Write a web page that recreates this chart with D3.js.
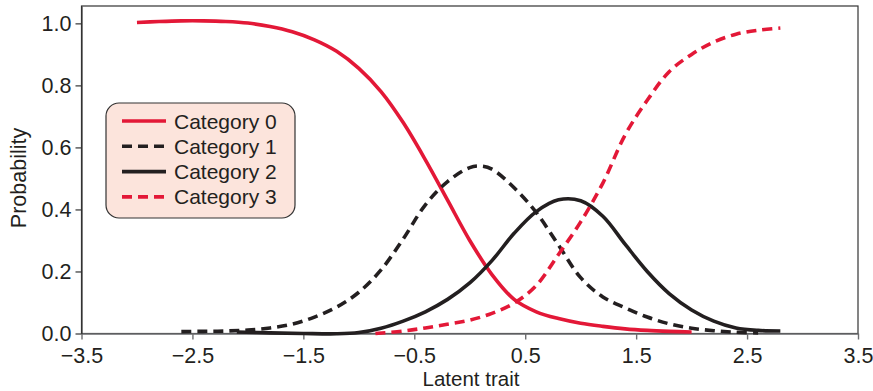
<!DOCTYPE html>
<html>
<head>
<meta charset="utf-8">
<script src="https://cdn.jsdelivr.net/npm/d3@7"></script>
<style>
    body { margin: 0; background: #fff; }
    text { font-family: "Liberation Sans", Arial, sans-serif; fill: #231f20; }
</style>
</head>
<body>
<svg id="chart" width="873" height="391"></svg>
<script>
// Values, one x / y list per category
var cat0_x = [-3.0, -2.8, -2.6, -2.4, -2.2, -2.0, -1.8, -1.6, -1.4, -1.2, -1.0, -0.8, -0.6, -0.4, -0.2, 0.0, 0.2, 0.4, 0.6, 0.8, 1.0, 1.2, 1.4, 1.6, 1.8, 2.0];
var cat0_y = [1.003, 1.006, 1.008, 1.008, 1.006, 1.001, 0.99, 0.973, 0.947, 0.91, 0.855, 0.78, 0.68, 0.56, 0.43, 0.30, 0.19, 0.11, 0.07, 0.048, 0.033, 0.023, 0.015, 0.01, 0.007, 0.005];

var cat1_x = [-2.6, -2.4, -2.2, -2.0, -1.8, -1.6, -1.4, -1.2, -1.0, -0.8, -0.6, -0.4, -0.2, 0.0, 0.1, 0.2, 0.4, 0.6, 0.8, 1.0, 1.2, 1.4, 1.6, 1.8, 2.0, 2.2, 2.4, 2.6];
var cat1_y = [0.006, 0.007, 0.008, 0.011, 0.018, 0.03, 0.053, 0.085, 0.133, 0.205, 0.305, 0.415, 0.49, 0.535, 0.54, 0.53, 0.47, 0.39, 0.285, 0.18, 0.118, 0.083, 0.053, 0.031, 0.017, 0.009, 0.004, 0.002];

var cat2_x = [-2.1, -1.8, -1.5, -1.2, -1.0, -0.8, -0.6, -0.4, -0.2, 0.0, 0.2, 0.4, 0.6, 0.8, 1.0, 1.2, 1.4, 1.6, 1.8, 2.0, 2.2, 2.4, 2.6, 2.8];
var cat2_y = [0.005, 0.002, 0.0, -0.001, 0.003, 0.017, 0.04, 0.07, 0.11, 0.163, 0.235, 0.323, 0.393, 0.431, 0.428, 0.378, 0.288, 0.2, 0.128, 0.076, 0.04, 0.018, 0.01, 0.008];

var cat3_x = [-0.85, -0.6, -0.4, -0.2, 0.0, 0.2, 0.4, 0.6, 0.8, 1.0, 1.2, 1.4, 1.6, 1.8, 2.0, 2.2, 2.4, 2.6, 2.8];
var cat3_y = [0.0, 0.008, 0.018, 0.03, 0.043, 0.065, 0.098, 0.155, 0.255, 0.36, 0.485, 0.64, 0.752, 0.845, 0.9, 0.94, 0.965, 0.978, 0.985];

var category_names = ["Category 0", "Category 1", "Category 2", "Category 3"];
var x_ticks = [-3.5, -2.5, -1.5, -0.5, 0.5, 1.5, 2.5, 3.5];
var y_ticks = [0.0, 0.2, 0.4, 0.6, 0.8, 1.0];

chart();

function chart() {
    var svg = d3.select("#chart"),
        margin = {top: 6, left: 81.5, bottom: 57.5, right: 15},
        width = +svg.attr("width"),
        height = +svg.attr("height");

    var red = "#e31837", black = "#231f20";
    var font = "Liberation Sans, Arial, sans-serif";

    // styles for each category, same order as category_names
    var styles = [
        {color: red, dash: null},
        {color: black, dash: "10,6"},
        {color: black, dash: null},
        {color: red, dash: "10,6"}
    ];

    var x = d3.scaleLinear()
        .domain([-3.5, 3.5])
        .range([margin.left, width - margin.right]);

    var y = d3.scaleLinear()
        .domain([0, 1.056])
        .range([height - margin.bottom, margin.top]);

    // the box round the plot
    svg.append("rect")
        .attr("x", x(-3.5))
        .attr("y", y(1.056))
        .attr("width", x(3.5) - x(-3.5))
        .attr("height", y(0) - y(1.056))
        .attr("fill", "none")
        .attr("stroke", "#333")
        .attr("stroke-width", 1.2);

    var xAxis = svg.append("g")
        .attr("transform", `translate(0,${y(0)})`)
        .call(d3.axisBottom(x).tickValues(x_ticks).tickFormat(d3.format(".1f"))
            .tickSize(6).tickPadding(8.5).tickSizeOuter(0));
    xAxis.selectAll("path, line").attr("stroke", "#6d6e70").attr("stroke-width", 1.4);
    xAxis.selectAll("text").attr("font-size", 21.5).attr("fill", "#231f20")
        .attr("font-family", font);

    var yAxis = svg.append("g")
        .attr("transform", `translate(${x(-3.5)},0)`)
        .call(d3.axisLeft(y).tickValues(y_ticks).tickFormat(d3.format(".1f"))
            .tickSize(6).tickPadding(4).tickSizeOuter(0));
    yAxis.selectAll("path, line").attr("stroke", "#333").attr("stroke-width", 1.2);
    yAxis.selectAll("text").attr("font-size", 21.5).attr("fill", "#231f20")
        .attr("font-family", font);

    // axis titles
    // x title sits at the very bottom, kept just inside the picture
    svg.append("text")
        .attr("x", 471)
        .attr("y", 386)
        .attr("text-anchor", "middle")
        .attr("font-size", 20.5)
        .text("Latent trait");

    svg.append("text")
        .attr("transform", "translate(25.5,178) rotate(-90)")
        .attr("text-anchor", "middle")
        .attr("font-size", 21.5)
        .text("Probability");

    // curves
    var series = [
        d3.zip(cat0_x, cat0_y),
        d3.zip(cat1_x, cat1_y),
        d3.zip(cat2_x, cat2_y),
        d3.zip(cat3_x, cat3_y)
    ];

    var line = d3.line()
        .x(d => x(d[0]))
        .y(d => y(d[1]))
        .curve(d3.curveCatmullRom.alpha(0.5));

    svg.selectAll("path.curve")
        .data(series)
        .enter().append("path")
        .classed("curve", true)
        .attr("d", line)
        .attr("fill", "none")
        .attr("stroke", (d, i) => styles[i].color)
        .attr("stroke-width", 3.6)
        .attr("stroke-dasharray", (d, i) => styles[i].dash);

    // legend
    var legend = svg.append("g").attr("transform", "translate(106,103)");

    legend.append("rect")
        .attr("width", 189)
        .attr("height", 115)
        .attr("rx", 13)
        .attr("ry", 13)
        .attr("fill", "#fce4dc")
        .attr("stroke", "#333")
        .attr("stroke-width", 1.2);

    var rows = legend.selectAll("g.row")
        .data(category_names)
        .enter().append("g")
        .classed("row", true)
        .attr("transform", (d, i) => `translate(0,${18 + i * 25.3})`);

    rows.append("line")
        .attr("x1", 16)
        .attr("x2", 60)
        .attr("stroke", (d, i) => styles[i].color)
        .attr("stroke-width", 3.6)
        .attr("stroke-dasharray", (d, i) => styles[i].dash);

    rows.append("text")
        .attr("x", 68)
        .attr("dy", "0.36em")
        .attr("font-size", 21)
        .text(d => d);
}
</script>
</body>
</html>
